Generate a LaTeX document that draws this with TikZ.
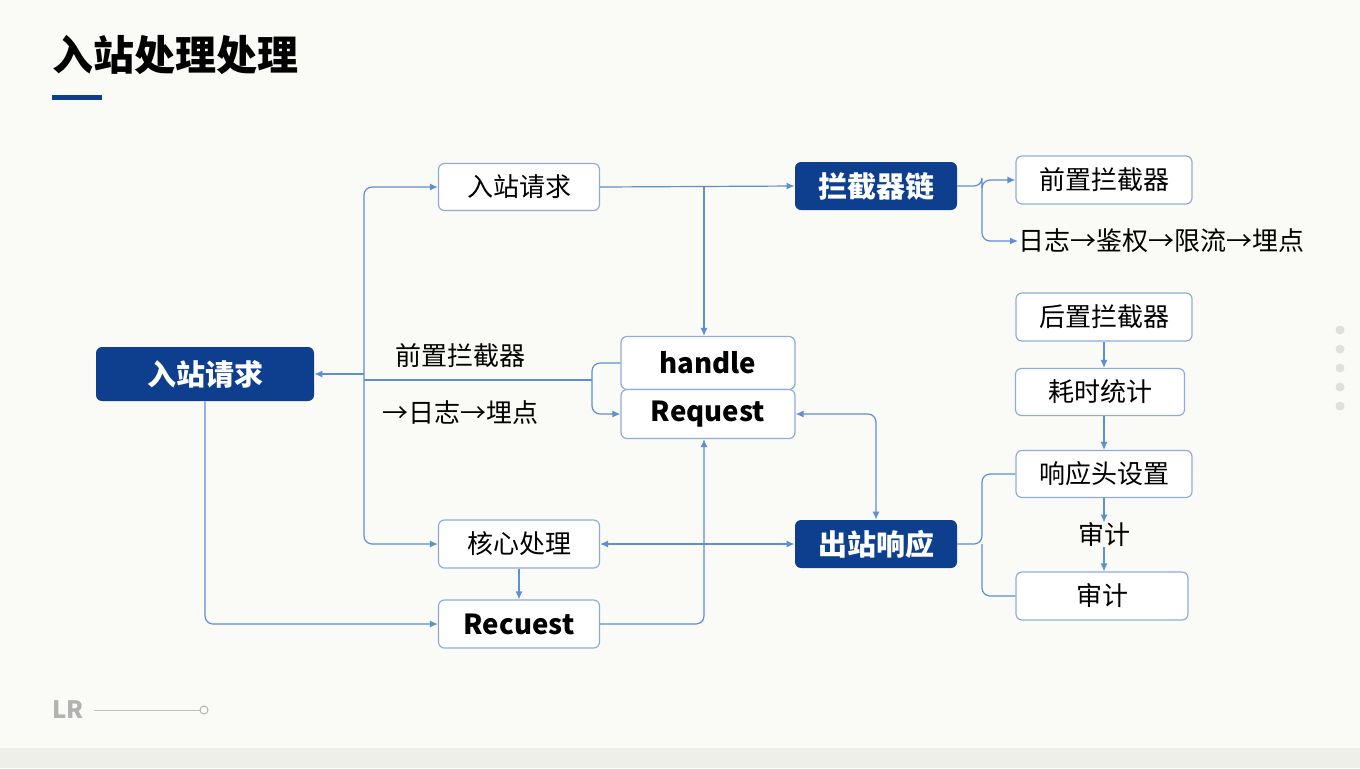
\documentclass[tikz,border=0pt]{standalone}
\usepackage{fontspec}
\setmainfont{Noto Sans CJK SC}
\usetikzlibrary{arrows.meta}
\definecolor{dk}{HTML}{0E3F8F}
\definecolor{ln}{HTML}{5E8FD2}
\definecolor{bd}{HTML}{8FACD9}
\definecolor{bg}{HTML}{FAFAF6}
\definecolor{bb}{HTML}{EFEFEA}
\begin{document}
\begin{tikzpicture}[x=0.5pt,y=-0.5pt,
  box/.style={draw=bd,line width=0.6pt,rounded corners=3pt,fill=white,font=\fontsize{13}{15}\selectfont,inner sep=0pt},
  dbox/.style={fill=dk,rounded corners=3pt,text=white,font=\fontsize{14.5}{16}\bfseries\selectfont,inner sep=0pt},
  txt/.style={font=\fontsize{13}{15}\selectfont,inner sep=0pt},
  con/.style={draw=ln,line width=0.6pt,rounded corners=4pt},
  arr/.style={con,-{Latex[length=4pt,width=3.5pt]}},
  barr/.style={con,{Latex[length=4pt,width=3.5pt]}-{Latex[length=4pt,width=3.5pt]}}]
\useasboundingbox (0,0) rectangle (1360,768);
\fill[bg] (0,0) rectangle (1360,768);
\fill[bb] (0,748) rectangle (1360,768);
\node[anchor=west,font=\fontsize{20.5}{24}\bfseries\selectfont,inner sep=0pt] (title) at (52,55) {入站处理处理};
\fill[dk] (52,95) rectangle (102,100);
\node[anchor=west,text=gray!60,font=\fontsize{12}{14}\bfseries\selectfont,inner sep=0pt] (lr) at (52,710) {LR};
\coordinate (lre) at (200,710);
\draw[gray!50,line width=0.5pt] (94,710) -- (lre);
\draw[gray!60,line width=0.5pt] (204,710) circle (4);
\foreach \y in {330,349,368,387,406} \fill[gray!25] (1340,\y) circle (4.5);

\node[dbox,minimum width=109pt,minimum height=27pt] (in) at (205,374) {入站请求};
\node[box,minimum width=80.5pt,minimum height=23.5pt] (req1) at (519,187) {入站请求};
\node[dbox,minimum width=81pt,minimum height=24pt] (chain) at (876,186) {拦截器链};
\node[box,minimum width=88pt,minimum height=24pt] (pre) at (1104,180) {前置拦截器};
\node[txt,anchor=west] (seq) at (1018,241) {日志→鉴权→限流→埋点};
\node[box,minimum width=87pt,minimum height=26.5pt,font=\fontsize{13.8}{15}\bfseries\selectfont] (handle) at (708,363) {handle};
\node[box,minimum width=87pt,minimum height=24.5pt,font=\fontsize{13.8}{15}\bfseries\selectfont] (hreq) at (708,414) {Request};
\node[txt] (lab1) at (460,356) {前置拦截器};
\node[txt] (lab2) at (460,413) {→日志→埋点};
\node[box,minimum width=80.5pt,minimum height=24pt] (core) at (519,544) {核心处理};
\node[box,minimum width=80.5pt,minimum height=24pt,font=\fontsize{13.8}{15}\bfseries\selectfont] (req2) at (519,624) {Recuest};
\node[dbox,minimum width=81pt,minimum height=24pt] (out) at (876,544) {出站响应};
\node[box,minimum width=88pt,minimum height=24pt] (post) at (1104,317) {后置拦截器};
\node[box,minimum width=84.5pt,minimum height=23.5pt] (cost) at (1100,392) {耗时统计};
\node[box,minimum width=88pt,minimum height=23.5pt] (hdr) at (1104,474) {响应头设置};
\node[txt] (aud1) at (1104,535) {审计};
\node[box,minimum width=86pt,minimum height=24pt] (aud2) at (1102,596) {审计};

\draw[arr] (364,374) |- (req1.west);
\draw[arr] (364,374) |- (core.west);
\draw[arr] (364,374) -- (in.east);
\draw[con] (364,380) -- (592,380);
\draw[arr] (handle.west) -- (592,363) |- (hreq.west);
\draw[arr] (req1.east) -- (chain.west);
\draw[arr] (704,187) -- (handle.north -| 704,0);
\draw[arr] (chain.east) -- (982,186) |- (pre.west);
\draw[arr] (982,186) |- (seq.west);
\draw[barr] (out.north) |- (hreq.east);
\draw[barr] (core.east) -- (out.west);
\draw[arr] (core.south) -- (req2.north);
\draw[arr] (in.south) |- (req2.west);
\draw[arr] (req2.east) -| (hreq.south -| 704,0);
\draw[con] (out.east) -- (982,544) |- (hdr.west);
\draw[con] (982,544) |- (aud2.west);
\draw[arr] (post.south) -- (post.south|-cost.north);
\draw[arr] (cost.south -| 1104,0) -- (hdr.north);
\draw[arr] (hdr.south) -- (aud1.north);
\draw[arr] (aud1.south -| 1104,0) -- (aud2.north -| 1104,0);
\end{tikzpicture}
\end{document}
